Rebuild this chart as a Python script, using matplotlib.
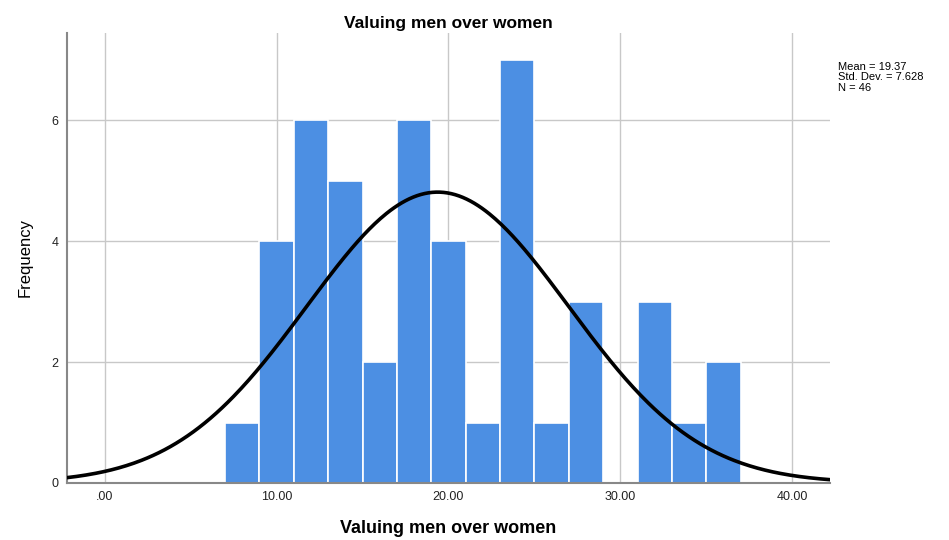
import numpy as np
import matplotlib
matplotlib.use("Agg")
import matplotlib.pyplot as plt

plt.rcParams['font.family'] = ['Liberation Sans', 'DejaVu Sans']

# Histogram of "Valuing men over women" scores (bin width 2)
bin_edges = [7, 9, 11, 13, 15, 17, 19, 21, 23, 25, 27, 29, 31, 33, 35, 37]
counts = [1, 4, 6, 5, 2, 6, 4, 1, 7, 1, 3, 0, 3, 1, 2]
mean = 19.37
std_dev = 7.628
n_obs = 46

x_ticks = [0, 10, 20, 30, 40]
x_tick_labels = [".00", "10.00", "20.00", "30.00", "40.00"]
y_ticks = [0, 2, 4, 6]

fig = plt.figure(figsize=(9.49, 5.40), dpi=100)
ax = fig.add_axes([0.0706, 0.1056, 0.804, 0.834])

edges = np.array(bin_edges, dtype=float)
widths = np.diff(edges)
ax.bar(edges[:-1], counts, width=widths, align='edge',
       color='#4C8FE3', edgecolor='white', linewidth=1.2, zorder=2)

# Normal curve scaled to counts
xmin, xmax = -2.2, 42.2
xs = np.linspace(xmin, xmax, 400)
bw = widths[0]
pdf = np.exp(-0.5 * ((xs - mean) / std_dev) ** 2) / (std_dev * np.sqrt(2 * np.pi))
ax.plot(xs, n_obs * bw * pdf, color='black', linewidth=2.6, zorder=3)

ax.set_xlim(xmin, xmax)
ax.set_ylim(0, 7.45)
ax.set_xticks(x_ticks)
ax.set_xticklabels(x_tick_labels)
ax.set_yticks(y_ticks)
ax.tick_params(axis='both', length=0, labelsize=9, colors='#222222', pad=6)

ax.grid(True, color='#C8C8C8', linewidth=1.0, zorder=0)
ax.set_axisbelow(True)
for side in ('top', 'right'):
    ax.spines[side].set_visible(False)
for side in ('left', 'bottom'):
    ax.spines[side].set_color('#888888')
    ax.spines[side].set_linewidth(1.5)

ax.set_title("Valuing men over women", fontsize=12.5, fontweight='bold', pad=3)
ax.set_xlabel("Valuing men over women", fontsize=13, fontweight='bold', labelpad=12)
ax.set_ylabel("Frequency", fontsize=12, labelpad=14)

fig.text(0.883, 0.885, f"Mean = {mean:.2f}\nStd. Dev. = {std_dev:.3f}\nN = {n_obs}",
         fontsize=8, va='top', ha='left', linespacing=1.05)

fig.savefig("out.png", dpi=100)
